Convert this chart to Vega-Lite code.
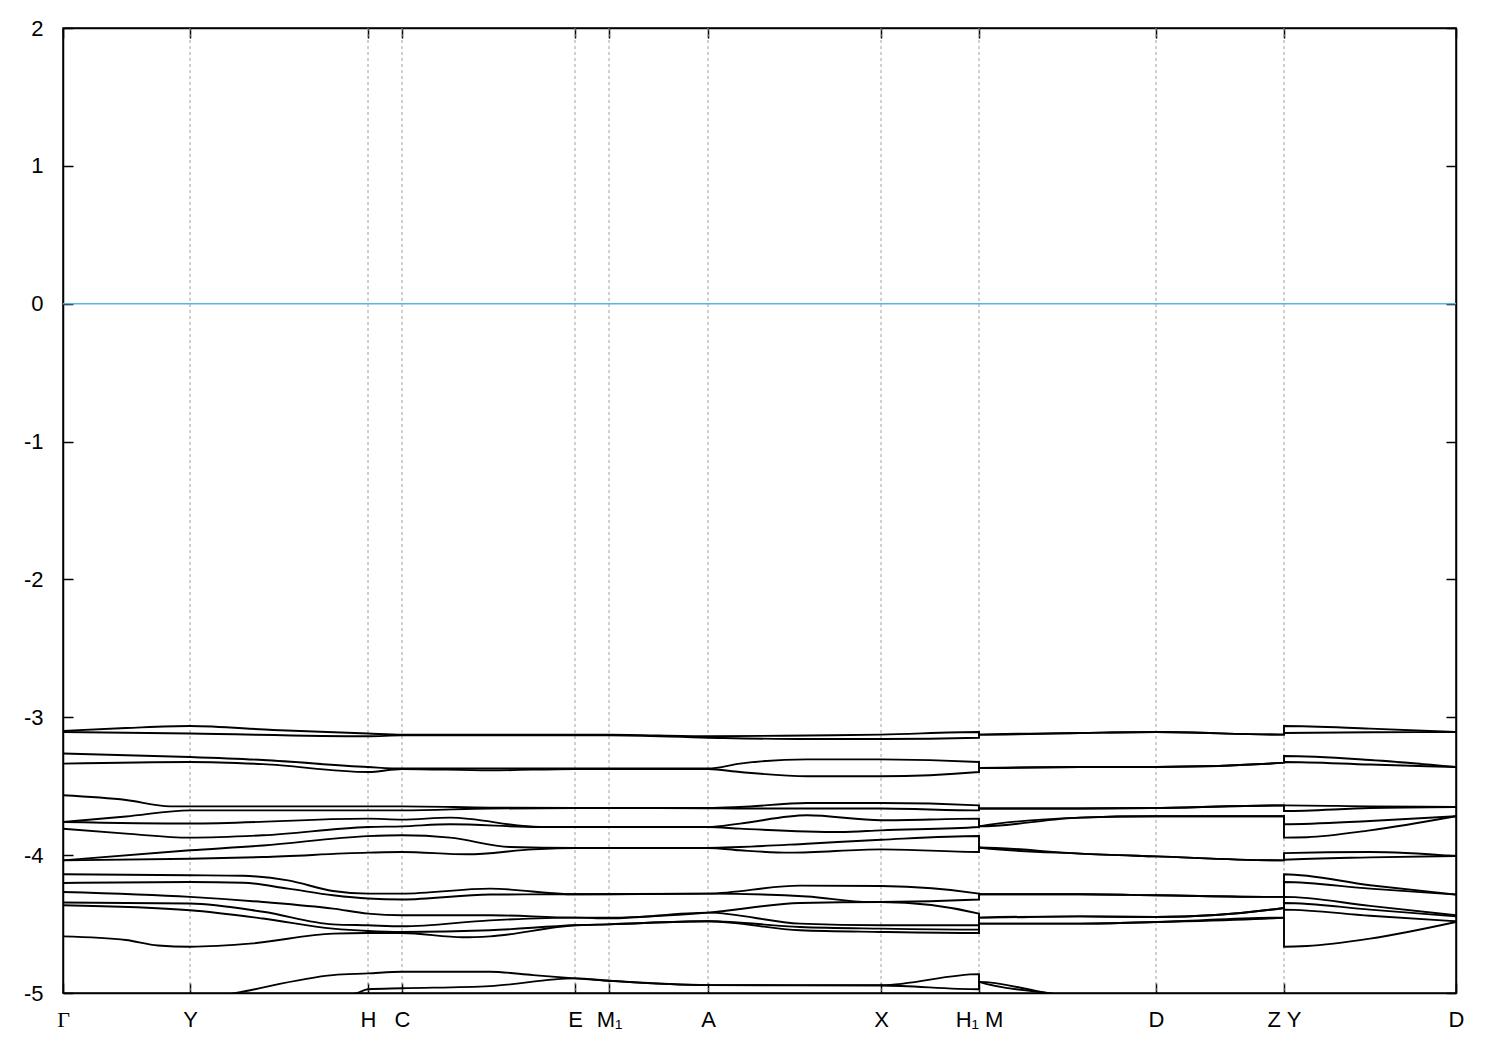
{
  "$schema": "https://vega.github.io/schema/vega-lite/v6.json",
  "width": 1393,
  "height": 965,
  "autosize": {"type": "none"},
  "padding": {"left": 63, "top": 28, "right": 44, "bottom": 57},
  "background": "white",
  "config": {
    "view": {"stroke": "black", "strokeWidth": 1.5},
    "axis": {
      "domainColor": "black", "domainWidth": 1.5,
      "tickColor": "black", "tickWidth": 1.5, "tickSize": -10,
      "labelFont": "Liberation Sans", "labelFontSize": 22, "labelColor": "black",
      "grid": false, "title": null
    }
  },
  "layer": [
    {
      "data": {"values": [{"k":127},{"k":305},{"k":339},{"k":512},{"k":546},{"k":645},{"k":818},{"k":916},{"k":1093},{"k":1221}]},
      "mark": {"type": "rule", "color": "#a0a0a0", "strokeWidth": 1, "strokeDash": [3, 3]},
      "encoding": {
        "x": {"field": "k", "type": "quantitative", "scale": {"domain": [0, 1393], "nice": false, "zero": false},
          "axis": {"orient": "top", "values": [0,127,305,339,512,546,645,818,916,1093,1221,1393], "labels": false}}
      }
    },
    {
      "data": {"values": [{"e": 0}]},
      "mark": {"type": "rule", "color": "#56b4e9", "strokeWidth": 1.6},
      "encoding": {
        "y": {"field": "e", "type": "quantitative", "scale": {"domain": [-5, 2], "nice": false, "zero": false},
          "axis": {"orient": "right", "values": [-5,-4,-3,-2,-1,0,1,2], "labels": false}}
      }
    },
    {
      "data": {"values": [
        {"b":"a1","k":0,"e":-3.099},{"b":"a1","k":63,"e":-3.078},{"b":"a1","k":127,"e":-3.063},{"b":"a1","k":210,"e":-3.092},{"b":"a1","k":305,"e":-3.118},{"b":"a1","k":339,"e":-3.126},{"b":"a1","k":512,"e":-3.126},{"b":"a1","k":546,"e":-3.126},{"b":"a1","k":645,"e":-3.138},{"b":"a1","k":744,"e":-3.132},{"b":"a1","k":818,"e":-3.126},{"b":"a1","k":916,"e":-3.107},{"b":"a1","k":916,"e":-3.126},{"b":"a1","k":1017,"e":-3.114},{"b":"a1","k":1093,"e":-3.107},{"b":"a1","k":1221,"e":-3.126},{"b":"a1","k":1221,"e":-3.063},{"b":"a1","k":1307,"e":-3.082},{"b":"a1","k":1393,"e":-3.107},
        {"b":"a2","k":0,"e":-3.107},{"b":"a2","k":127,"e":-3.118},{"b":"a2","k":305,"e":-3.138},{"b":"a2","k":339,"e":-3.131},{"b":"a2","k":512,"e":-3.131},{"b":"a2","k":546,"e":-3.131},{"b":"a2","k":645,"e":-3.148},{"b":"a2","k":744,"e":-3.158},{"b":"a2","k":818,"e":-3.158},{"b":"a2","k":916,"e":-3.148},{"b":"a2","k":916,"e":-3.126},{"b":"a2","k":1017,"e":-3.114},{"b":"a2","k":1093,"e":-3.107},{"b":"a2","k":1221,"e":-3.126},{"b":"a2","k":1221,"e":-3.114},{"b":"a2","k":1307,"e":-3.109},{"b":"a2","k":1393,"e":-3.107},
        {"b":"b1","k":0,"e":-3.263},{"b":"b1","k":127,"e":-3.288},{"b":"b1","k":200,"e":-3.31},{"b":"b1","k":305,"e":-3.361},{"b":"b1","k":339,"e":-3.372},{"b":"b1","k":512,"e":-3.372},{"b":"b1","k":645,"e":-3.372},{"b":"b1","k":677,"e":-3.336},{"b":"b1","k":744,"e":-3.305},{"b":"b1","k":818,"e":-3.305},{"b":"b1","k":916,"e":-3.324},{"b":"b1","k":916,"e":-3.368},{"b":"b1","k":1017,"e":-3.361},{"b":"b1","k":1093,"e":-3.361},{"b":"b1","k":1221,"e":-3.329},{"b":"b1","k":1221,"e":-3.281},{"b":"b1","k":1307,"e":-3.31},{"b":"b1","k":1393,"e":-3.361},
        {"b":"b2","k":0,"e":-3.336},{"b":"b2","k":127,"e":-3.324},{"b":"b2","k":200,"e":-3.34},{"b":"b2","k":305,"e":-3.397},{"b":"b2","k":339,"e":-3.375},{"b":"b2","k":427,"e":-3.385},{"b":"b2","k":512,"e":-3.375},{"b":"b2","k":645,"e":-3.375},{"b":"b2","k":677,"e":-3.397},{"b":"b2","k":744,"e":-3.428},{"b":"b2","k":818,"e":-3.428},{"b":"b2","k":916,"e":-3.397},{"b":"b2","k":916,"e":-3.368},{"b":"b2","k":1017,"e":-3.361},{"b":"b2","k":1093,"e":-3.361},{"b":"b2","k":1221,"e":-3.329},{"b":"b2","k":1221,"e":-3.324},{"b":"b2","k":1307,"e":-3.343},{"b":"b2","k":1393,"e":-3.361},
        {"b":"c1","k":0,"e":-3.566},{"b":"c1","k":63,"e":-3.6},{"b":"c1","k":107,"e":-3.646},{"b":"c1","k":305,"e":-3.646},{"b":"c1","k":339,"e":-3.646},{"b":"c1","k":427,"e":-3.655},{"b":"c1","k":512,"e":-3.658},{"b":"c1","k":645,"e":-3.658},{"b":"c1","k":677,"e":-3.651},{"b":"c1","k":744,"e":-3.622},{"b":"c1","k":818,"e":-3.622},{"b":"c1","k":916,"e":-3.639},{"b":"c1","k":916,"e":-3.662},{"b":"c1","k":1017,"e":-3.662},{"b":"c1","k":1093,"e":-3.658},{"b":"c1","k":1221,"e":-3.639},{"b":"c1","k":1221,"e":-3.639},{"b":"c1","k":1307,"e":-3.646},{"b":"c1","k":1393,"e":-3.651},
        {"b":"c2","k":0,"e":-3.76},{"b":"c2","k":63,"e":-3.72},{"b":"c2","k":127,"e":-3.675},{"b":"c2","k":305,"e":-3.675},{"b":"c2","k":339,"e":-3.675},{"b":"c2","k":427,"e":-3.662},{"b":"c2","k":512,"e":-3.658},{"b":"c2","k":645,"e":-3.66},{"b":"c2","k":677,"e":-3.662},{"b":"c2","k":818,"e":-3.662},{"b":"c2","k":916,"e":-3.675},{"b":"c2","k":916,"e":-3.662},{"b":"c2","k":1017,"e":-3.662},{"b":"c2","k":1093,"e":-3.658},{"b":"c2","k":1221,"e":-3.639},{"b":"c2","k":1221,"e":-3.68},{"b":"c2","k":1307,"e":-3.658},{"b":"c2","k":1393,"e":-3.651},
        {"b":"c3","k":0,"e":-3.76},{"b":"c3","k":127,"e":-3.771},{"b":"c3","k":305,"e":-3.735},{"b":"c3","k":339,"e":-3.742},{"b":"c3","k":387,"e":-3.728},{"b":"c3","k":477,"e":-3.796},{"b":"c3","k":512,"e":-3.796},{"b":"c3","k":645,"e":-3.796},{"b":"c3","k":677,"e":-3.771},{"b":"c3","k":744,"e":-3.711},{"b":"c3","k":818,"e":-3.747},{"b":"c3","k":916,"e":-3.735},{"b":"c3","k":916,"e":-3.791},{"b":"c3","k":1017,"e":-3.728},{"b":"c3","k":1093,"e":-3.718},{"b":"c3","k":1221,"e":-3.718},{"b":"c3","k":1221,"e":-3.776},{"b":"c3","k":1307,"e":-3.752},{"b":"c3","k":1393,"e":-3.718},
        {"b":"c4","k":0,"e":-3.808},{"b":"c4","k":63,"e":-3.844},{"b":"c4","k":127,"e":-3.873},{"b":"c4","k":200,"e":-3.856},{"b":"c4","k":305,"e":-3.796},{"b":"c4","k":339,"e":-3.791},{"b":"c4","k":387,"e":-3.776},{"b":"c4","k":477,"e":-3.796},{"b":"c4","k":512,"e":-3.796},{"b":"c4","k":645,"e":-3.796},{"b":"c4","k":677,"e":-3.808},{"b":"c4","k":777,"e":-3.832},{"b":"c4","k":818,"e":-3.82},{"b":"c4","k":916,"e":-3.796},{"b":"c4","k":916,"e":-3.791},{"b":"c4","k":1017,"e":-3.728},{"b":"c4","k":1093,"e":-3.718},{"b":"c4","k":1221,"e":-3.718},{"b":"c4","k":1221,"e":-3.873},{"b":"c4","k":1244,"e":-3.87},{"b":"c4","k":1307,"e":-3.82},{"b":"c4","k":1393,"e":-3.718},
        {"b":"d1","k":0,"e":-4.038},{"b":"d1","k":127,"e":-3.965},{"b":"d1","k":200,"e":-3.93},{"b":"d1","k":305,"e":-3.862},{"b":"d1","k":339,"e":-3.856},{"b":"d1","k":387,"e":-3.873},{"b":"d1","k":447,"e":-3.941},{"b":"d1","k":512,"e":-3.948},{"b":"d1","k":645,"e":-3.948},{"b":"d1","k":677,"e":-3.941},{"b":"d1","k":744,"e":-3.917},{"b":"d1","k":818,"e":-3.888},{"b":"d1","k":916,"e":-3.861},{"b":"d1","k":916,"e":-3.945},{"b":"d1","k":1017,"e":-3.989},{"b":"d1","k":1093,"e":-4.009},{"b":"d1","k":1221,"e":-4.038},{"b":"d1","k":1221,"e":-3.985},{"b":"d1","k":1307,"e":-3.977},{"b":"d1","k":1393,"e":-4.007},
        {"b":"d2","k":0,"e":-4.038},{"b":"d2","k":127,"e":-4.026},{"b":"d2","k":200,"e":-4.014},{"b":"d2","k":305,"e":-3.982},{"b":"d2","k":339,"e":-3.977},{"b":"d2","k":404,"e":-3.994},{"b":"d2","k":470,"e":-3.958},{"b":"d2","k":512,"e":-3.948},{"b":"d2","k":645,"e":-3.948},{"b":"d2","k":677,"e":-3.965},{"b":"d2","k":727,"e":-3.982},{"b":"d2","k":818,"e":-3.958},{"b":"d2","k":916,"e":-3.977},{"b":"d2","k":916,"e":-3.945},{"b":"d2","k":1017,"e":-3.989},{"b":"d2","k":1093,"e":-4.009},{"b":"d2","k":1221,"e":-4.038},{"b":"d2","k":1221,"e":-4.033},{"b":"d2","k":1307,"e":-4.016},{"b":"d2","k":1393,"e":-4.007},
        {"b":"e1","k":0,"e":-4.139},{"b":"e1","k":127,"e":-4.146},{"b":"e1","k":180,"e":-4.15},{"b":"e1","k":225,"e":-4.183},{"b":"e1","k":270,"e":-4.26},{"b":"e1","k":305,"e":-4.279},{"b":"e1","k":339,"e":-4.279},{"b":"e1","k":427,"e":-4.243},{"b":"e1","k":512,"e":-4.284},{"b":"e1","k":546,"e":-4.284},{"b":"e1","k":645,"e":-4.279},{"b":"e1","k":737,"e":-4.221},{"b":"e1","k":818,"e":-4.224},{"b":"e1","k":916,"e":-4.279},{"b":"e1","k":916,"e":-4.284},{"b":"e1","k":1017,"e":-4.284},{"b":"e1","k":1093,"e":-4.291},{"b":"e1","k":1221,"e":-4.303},{"b":"e1","k":1221,"e":-4.139},{"b":"e1","k":1307,"e":-4.218},{"b":"e1","k":1393,"e":-4.286},
        {"b":"e2","k":0,"e":-4.202},{"b":"e2","k":127,"e":-4.195},{"b":"e2","k":180,"e":-4.2},{"b":"e2","k":225,"e":-4.243},{"b":"e2","k":270,"e":-4.291},{"b":"e2","k":305,"e":-4.315},{"b":"e2","k":339,"e":-4.322},{"b":"e2","k":427,"e":-4.286},{"b":"e2","k":512,"e":-4.284},{"b":"e2","k":645,"e":-4.279},{"b":"e2","k":744,"e":-4.3},{"b":"e2","k":807,"e":-4.34},{"b":"e2","k":818,"e":-4.34},{"b":"e2","k":916,"e":-4.322},{"b":"e2","k":916,"e":-4.284},{"b":"e2","k":1017,"e":-4.284},{"b":"e2","k":1093,"e":-4.291},{"b":"e2","k":1221,"e":-4.303},{"b":"e2","k":1221,"e":-4.195},{"b":"e2","k":1307,"e":-4.243},{"b":"e2","k":1393,"e":-4.286},
        {"b":"f1","k":0,"e":-4.267},{"b":"f1","k":127,"e":-4.303},{"b":"f1","k":200,"e":-4.34},{"b":"f1","k":270,"e":-4.388},{"b":"f1","k":305,"e":-4.424},{"b":"f1","k":339,"e":-4.436},{"b":"f1","k":427,"e":-4.436},{"b":"f1","k":512,"e":-4.453},{"b":"f1","k":546,"e":-4.453},{"b":"f1","k":645,"e":-4.417},{"b":"f1","k":737,"e":-4.347},{"b":"f1","k":818,"e":-4.34},{"b":"f1","k":916,"e":-4.424},{"b":"f1","k":916,"e":-4.453},{"b":"f1","k":1017,"e":-4.444},{"b":"f1","k":1093,"e":-4.449},{"b":"f1","k":1221,"e":-4.383},{"b":"f1","k":1221,"e":-4.303},{"b":"f1","k":1307,"e":-4.368},{"b":"f1","k":1393,"e":-4.436},
        {"b":"f2","k":0,"e":-4.344},{"b":"f2","k":127,"e":-4.351},{"b":"f2","k":200,"e":-4.411},{"b":"f2","k":270,"e":-4.502},{"b":"f2","k":305,"e":-4.509},{"b":"f2","k":339,"e":-4.516},{"b":"f2","k":427,"e":-4.473},{"b":"f2","k":512,"e":-4.453},{"b":"f2","k":546,"e":-4.458},{"b":"f2","k":645,"e":-4.417},{"b":"f2","k":737,"e":-4.497},{"b":"f2","k":818,"e":-4.509},{"b":"f2","k":916,"e":-4.509},{"b":"f2","k":916,"e":-4.453},{"b":"f2","k":1017,"e":-4.444},{"b":"f2","k":1093,"e":-4.449},{"b":"f2","k":1221,"e":-4.383},{"b":"f2","k":1221,"e":-4.347},{"b":"f2","k":1307,"e":-4.395},{"b":"f2","k":1393,"e":-4.444},
        {"b":"f3","k":0,"e":-4.364},{"b":"f3","k":127,"e":-4.4},{"b":"f3","k":200,"e":-4.46},{"b":"f3","k":270,"e":-4.533},{"b":"f3","k":305,"e":-4.55},{"b":"f3","k":339,"e":-4.557},{"b":"f3","k":427,"e":-4.545},{"b":"f3","k":512,"e":-4.509},{"b":"f3","k":546,"e":-4.502},{"b":"f3","k":645,"e":-4.48},{"b":"f3","k":737,"e":-4.521},{"b":"f3","k":818,"e":-4.533},{"b":"f3","k":916,"e":-4.54},{"b":"f3","k":916,"e":-4.497},{"b":"f3","k":1017,"e":-4.497},{"b":"f3","k":1093,"e":-4.485},{"b":"f3","k":1221,"e":-4.453},{"b":"f3","k":1221,"e":-4.395},{"b":"f3","k":1307,"e":-4.44},{"b":"f3","k":1393,"e":-4.48},
        {"b":"f4","k":0,"e":-4.589},{"b":"f4","k":63,"e":-4.616},{"b":"f4","k":95,"e":-4.655},{"b":"f4","k":127,"e":-4.664},{"b":"f4","k":190,"e":-4.64},{"b":"f4","k":270,"e":-4.569},{"b":"f4","k":305,"e":-4.565},{"b":"f4","k":339,"e":-4.565},{"b":"f4","k":400,"e":-4.596},{"b":"f4","k":427,"e":-4.589},{"b":"f4","k":512,"e":-4.509},{"b":"f4","k":546,"e":-4.502},{"b":"f4","k":645,"e":-4.48},{"b":"f4","k":737,"e":-4.545},{"b":"f4","k":818,"e":-4.557},{"b":"f4","k":916,"e":-4.565},{"b":"f4","k":916,"e":-4.497},{"b":"f4","k":1017,"e":-4.497},{"b":"f4","k":1093,"e":-4.485},{"b":"f4","k":1221,"e":-4.453},{"b":"f4","k":1221,"e":-4.664},{"b":"f4","k":1244,"e":-4.659},{"b":"f4","k":1307,"e":-4.606},{"b":"f4","k":1393,"e":-4.485},
        {"b":"g1","k":127,"e":-5.06},{"b":"g1","k":173,"e":-5.0},{"b":"g1","k":270,"e":-4.87},{"b":"g1","k":305,"e":-4.858},{"b":"g1","k":339,"e":-4.846},{"b":"g1","k":427,"e":-4.846},{"b":"g1","k":470,"e":-4.87},{"b":"g1","k":512,"e":-4.894},{"b":"g1","k":546,"e":-4.911},{"b":"g1","k":645,"e":-4.943},{"b":"g1","k":818,"e":-4.943},{"b":"g1","k":916,"e":-4.863},{"b":"g1","k":916,"e":-4.919},{"b":"g1","k":984,"e":-5.0},{"b":"g1","k":1040,"e":-5.06},
        {"b":"g2","k":250,"e":-5.1},{"b":"g2","k":294,"e":-5.0},{"b":"g2","k":305,"e":-4.973},{"b":"g2","k":339,"e":-4.966},{"b":"g2","k":427,"e":-4.95},{"b":"g2","k":512,"e":-4.894},{"b":"g2","k":546,"e":-4.911},{"b":"g2","k":645,"e":-4.943},{"b":"g2","k":818,"e":-4.946},{"b":"g2","k":916,"e":-4.973},{"b":"g2","k":916,"e":-4.919},{"b":"g2","k":984,"e":-5.0},{"b":"g2","k":1040,"e":-5.06}
      ]},
      "transform": [{"window": [{"op": "row_number", "as": "i"}], "groupby": ["b"]}],
      "mark": {"type": "line", "color": "black", "strokeWidth": 1.9, "clip": true, "interpolate": "monotone"},
      "encoding": {
        "x": {"field": "k", "type": "quantitative", "scale": {"domain": [0, 1393], "nice": false, "zero": false},
          "axis": {"orient": "bottom", "values": [0,127,305,339,512,546,645,818,916,1093,1221,1393],
            "labelPadding": 26, "labelAngle": 0, "labelFlush": false, "labelOverlap": false,
            "labelFont": {"condition": {"test": "datum.value == 0", "value": "Liberation Serif"}, "value": "Liberation Sans"},
            "labelExpr": "datum.value == 0 ? 'Γ' : datum.value == 127 ? 'Y' : datum.value == 305 ? 'H' : datum.value == 339 ? 'C' : datum.value == 512 ? 'E' : datum.value == 546 ? 'M₁' : datum.value == 645 ? 'A' : datum.value == 818 ? 'X' : datum.value == 916 ? 'H₁ M' : datum.value == 1093 ? 'D' : datum.value == 1221 ? 'Z Y' : 'D'"}},
        "y": {"field": "e", "type": "quantitative", "scale": {"domain": [-5, 2], "nice": false, "zero": false},
          "axis": {"orient": "left", "values": [-5,-4,-3,-2,-1,0,1,2], "labelPadding": 30, "labelExpr": "toString(datum.value)"}},
        "detail": {"field": "b"},
        "order": {"field": "i"}
      }
    }
  ],
  "resolve": {"axis": {"x": "independent", "y": "independent"}}
}
